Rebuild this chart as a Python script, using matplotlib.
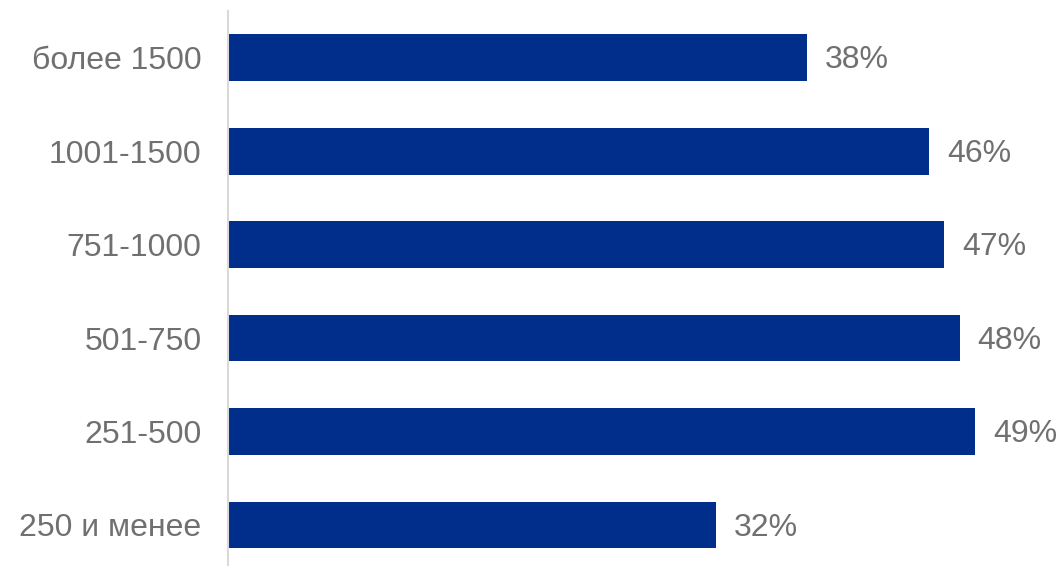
import matplotlib
matplotlib.use("Agg")
import matplotlib.pyplot as plt

categories = ["250 и менее", "251-500", "501-750", "751-1000", "1001-1500", "более 1500"]
values = [32, 49, 48, 47, 46, 38]
labels = ["32%", "49%", "48%", "47%", "46%", "38%"]

plt.rcParams['font.family'] = ['Liberation Sans', 'DejaVu Sans']

fig = plt.figure(figsize=(10.61, 5.66), dpi=100)
ax = fig.add_axes([228/1061, 0, 1 - 228/1061, 1 - 11/566])

bar_color = "#002E8A"
text_color = "#707070"
y = list(range(len(categories)))
ax.barh(y, values, height=0.5, color=bar_color)
for yi, v, lab in zip(y, values, labels):
    ax.annotate(lab, xy=(v, yi), xytext=(13, -2), textcoords="offset points",
                va="center", ha="left", fontsize=23, color=text_color)

ax.set_xlim(0, 833/15.24)
ax.set_ylim(-0.44, 5.5)
ax.set_yticks(y)
ax.set_yticklabels(categories, fontsize=23, color=text_color)
ax.tick_params(axis="y", length=0, pad=19)
ax.set_xticks([])
for s in ["top", "right", "bottom"]:
    ax.spines[s].set_visible(False)
ax.spines["left"].set_color("#D9D9D9")
ax.spines["left"].set_linewidth(1.5)

fig.savefig("out.png", dpi=100)
